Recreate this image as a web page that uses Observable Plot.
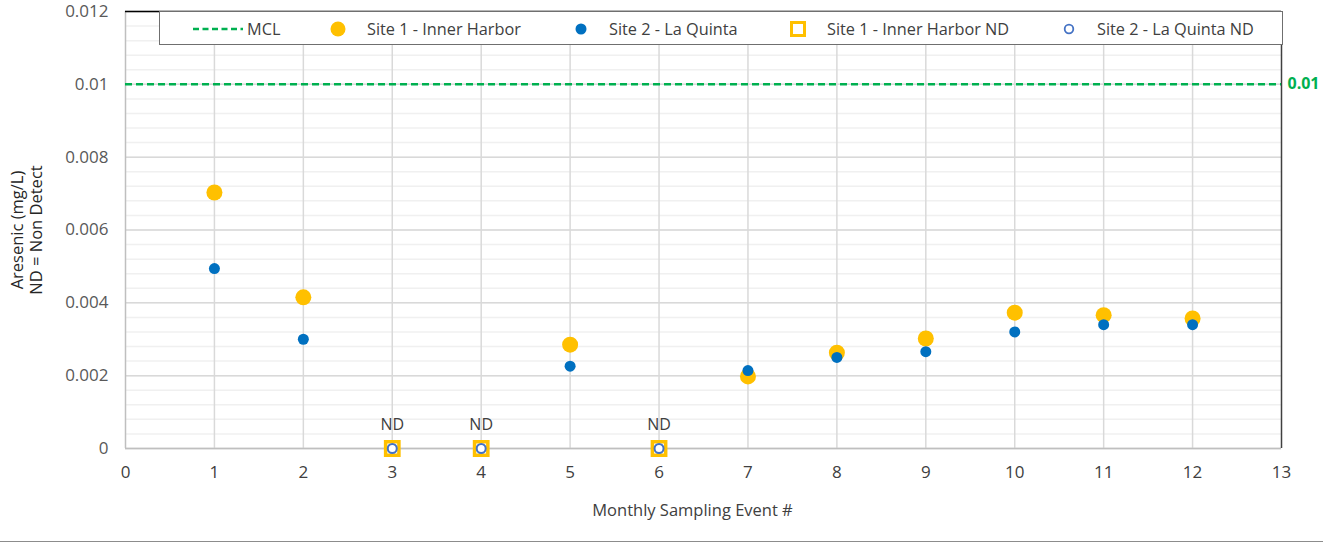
<!DOCTYPE html>
<html>
<head>
<meta charset="utf-8">
<script src="https://cdn.jsdelivr.net/npm/d3@7"></script>
<script src="https://cdn.jsdelivr.net/npm/@observablehq/plot@0.6"></script>
<style>
  body { margin: 0; background: #fff; font-family: "Open Sans", sans-serif; }
  #wrap { position: relative; width: 1323px; height: 544px; }
  #legend { position: absolute; left: 159px; top: 11px; width: 1124px; height: 34px; border: 1.5px solid #6f6f6f; background: #fff; box-sizing: border-box; }
  .item { position: absolute; top: 0; height: 34px; line-height: 34px; font-size: 16.3px; color: #404040; white-space: nowrap; }
  .sw { position: absolute; top: 0; }
  #bottomline { position: absolute; left: 0; top: 541px; width: 1323px; height: 0; border-top: 1.5px solid #8c8c8c; }
</style>
</head>
<body>
<div id="wrap"></div>
<script>
// ---- data ----
const events = [1, 2, 3, 4, 5, 6, 7, 8, 9, 10, 11, 12];
const site1 = [0.00703, 0.00415, null, null, 0.00285, null, 0.00198, 0.00263, 0.00302, 0.00373, 0.00366, 0.00357];
const site2 = [0.00494, 0.00300, null, null, 0.00226, null, 0.00214, 0.00250, 0.00266, 0.00320, 0.00340, 0.00340];
const ndEvents = [3, 4, 6];
const ndValue = 0;
const mcl = 0.01;
const xTicks = [0, 1, 2, 3, 4, 5, 6, 7, 8, 9, 10, 11, 12, 13];
const yTicks = [0, 0.002, 0.004, 0.006, 0.008, 0.01, 0.012];
const yMinorStep = 0.0004;
const legendLabels = ["MCL", "Site 1 - Inner Harbor", "Site 2 - La Quinta", "Site 1 - Inner Harbor ND", "Site 2 - La Quinta ND"];
const xTitle = "Monthly Sampling Event #";
const yTitle = "Aresenic (mg/L)\nND = Non Detect";

const s1 = events.map((e, i) => ({x: e, y: site1[i]})).filter(d => d.y != null);
const s2 = events.map((e, i) => ({x: e, y: site2[i]})).filter(d => d.y != null);
const nd = ndEvents.map(e => ({x: e, y: ndValue}));
const minor = d3.range(0, 0.012 + 1e-9, yMinorStep);

const GREEN = "#00b050", YELLOW = "#ffc000", BLUE = "#0070c0", RING = "#4472c4";

const chart = Plot.plot({
  width: 1323,
  height: 544,
  marginLeft: 125,
  marginRight: 42,
  marginTop: 11,
  marginBottom: 96,
  style: { fontFamily: "Open Sans, sans-serif", fontSize: "16px", background: "transparent" },
  x: { domain: [0, 13], axis: null },
  y: { domain: [0, 0.012], axis: null },
  marks: [
    Plot.ruleY(minor, { stroke: "#f0f0f0", strokeWidth: 1.5 }),
    Plot.ruleY(yTicks, { stroke: "#d9d9d9", strokeWidth: 1.5 }),
    Plot.ruleX(xTicks.filter(d => d > 0 && d < 13), { stroke: "#d9d9d9", strokeWidth: 1.5 }),
    Plot.ruleX([0], { stroke: "#bfbfbf", strokeWidth: 1.5 }),
    Plot.ruleY([0], { stroke: "#bfbfbf", strokeWidth: 1.5 }),
    Plot.ruleY([0.012], { stroke: "#000", strokeWidth: 1.5 }),
    Plot.ruleX([13], { stroke: "#404040", strokeWidth: 1.5 }),
    Plot.axisX({ ticks: xTicks, tickSize: 0, tickPadding: 17, fill: "#404040", fontSize: 17, label: null, tickFormat: d => String(d) }),
    Plot.axisY({ ticks: yTicks, tickSize: 0, tickPadding: 17, fill: "#595959", fontSize: 17, label: null, tickFormat: d => String(+d.toFixed(3)) }),
    Plot.ruleY([mcl], { x1: 0, x2: 13, stroke: GREEN, strokeWidth: 2.5, strokeDasharray: "7,4" }),
    Plot.text([mcl], { x: 13, y: d => d, text: d => String(d), dx: 6, textAnchor: "start", fill: GREEN, fontWeight: "bold", fontSize: 16 }),
    Plot.dot(s1, { x: "x", y: "y", r: 8, fill: YELLOW }),
    Plot.dot(s2, { x: "x", y: "y", r: 5.5, fill: BLUE }),
    Plot.dot(nd, { x: "x", y: "y", r: 7.5, symbol: "square", fill: "#fff", stroke: YELLOW, strokeWidth: 3.5 }),
    Plot.dot(nd, { x: "x", y: "y", r: 4.5, fill: "#fff", stroke: RING, strokeWidth: 2 }),
    Plot.text(nd, { x: "x", y: "y", text: () => "ND", dy: -24, fill: "#404040", fontSize: 16 }),
    Plot.text([xTitle], { frameAnchor: "bottom", dy: 62, dx: -11, lineAnchor: "middle", fill: "#404040", fontSize: 16.5 }),
    Plot.text([yTitle], { frameAnchor: "left", dx: -99, rotate: -90, textAnchor: "middle", fill: "#262626", fontSize: 16.5, lineHeight: 1.15 })
  ]
});

const wrap = document.getElementById("wrap");
wrap.appendChild(chart);

// ---- legend ----
const legend = document.createElement("div");
legend.id = "legend";
wrap.appendChild(legend);
const swSvg = (w, inner) => `<svg width="${w}" height="32" viewBox="0 0 ${w} 32">${inner}</svg>`;
const swatches = [
  { left: 33, w: 50, svg: swSvg(50, `<line x1="0" y1="17" x2="50" y2="17" stroke="${GREEN}" stroke-width="2.5" stroke-dasharray="6,3.5"/>`), text: 87 },
  { left: 168, w: 20, svg: swSvg(20, `<circle cx="10" cy="17" r="7.5" fill="${YELLOW}"/>`), text: 207 },
  { left: 411, w: 20, svg: swSvg(20, `<circle cx="10" cy="17" r="5.5" fill="${BLUE}"/>`), text: 449 },
  { left: 628, w: 20, svg: swSvg(20, `<rect x="3.5" y="10.5" width="13" height="13" fill="#fff" stroke="${YELLOW}" stroke-width="3"/>`), text: 667 },
  { left: 899, w: 20, svg: swSvg(20, `<circle cx="10" cy="17" r="4.3" fill="#fff" stroke="${RING}" stroke-width="1.8"/>`), text: 937 }
];
legendLabels.forEach((lab, i) => {
  const s = swatches[i];
  const sw = document.createElement("div");
  sw.className = "sw";
  sw.style.left = s.left + "px";
  sw.innerHTML = s.svg;
  legend.appendChild(sw);
  const t = document.createElement("div");
  t.className = "item";
  t.style.left = s.text + "px";
  t.textContent = lab;
  legend.appendChild(t);
});

const bl = document.createElement("div");
bl.id = "bottomline";
wrap.appendChild(bl);
</script>
</body>
</html>
